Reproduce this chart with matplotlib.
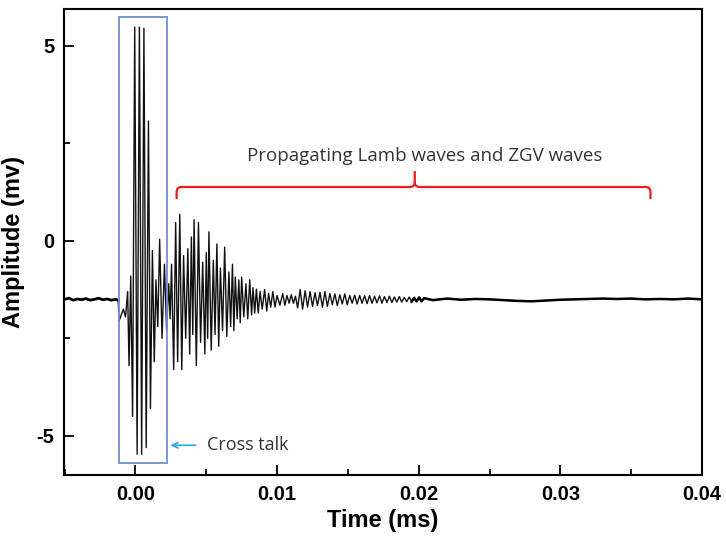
import numpy as np
import matplotlib
matplotlib.use("Agg")
import matplotlib.pyplot as plt
from matplotlib.path import Path
from matplotlib.patches import PathPatch, Rectangle

# ---- data (time in microseconds, amplitude in mV) ----
pre_t = [-5.0, -4.7, -4.4, -4.1, -3.8, -3.5, -3.2, -2.9, -2.6, -2.3, -2.0, -1.7, -1.4, -1.22]
pre_v = [-1.50, -1.47, -1.52, -1.49, -1.51, -1.48, -1.52, -1.50, -1.47, -1.51, -1.49, -1.52, -1.50, -1.52]

xtalk_t = [-1.15, -1.0, -0.85, -0.7, -0.55, -0.45, -0.33, -0.2, -0.05, 0.12, 0.28, 0.44, 0.60, 0.76,
           0.92, 1.06, 1.20, 1.33, 1.45, 1.58, 1.71, 1.88, 2.05, 2.20, 2.35, 2.45]
xtalk_v = [-2.05, -1.90, -1.75, -1.95, -1.30, -3.20, -0.90, -4.50, 5.48, -5.47, 5.48, -5.47, 5.45, -5.30,
           3.07, -4.30, -0.25, -3.10, -1.00, -2.20, 0.04, -2.50, -0.60, -2.30, -1.10, -2.00]

lamb_t = [2.55, 2.70, 2.84, 2.98, 3.13, 3.27, 3.40, 3.55, 3.70, 3.83, 3.95, 4.05, 4.14, 4.30, 4.45, 4.60,
          4.75, 4.90, 5.00, 5.10, 5.19, 5.35, 5.50, 5.62, 5.75, 5.88, 6.00, 6.15, 6.30, 6.45, 6.60, 6.72,
          6.85, 6.95, 7.05, 7.18, 7.30, 7.40, 7.50, 7.65, 7.80, 7.93, 8.07, 8.20, 8.30, 8.42, 8.54, 8.67,
          8.80, 8.95, 9.12, 9.27, 9.40, 9.55, 9.70, 9.85, 10.00, 10.20, 10.40, 10.55, 10.70, 10.85, 11.00,
          11.15, 11.30]
lamb_v = [-0.60, -3.30, 0.47, -3.10, 0.68, -3.30, -0.38, -2.50, -0.20, -2.90, 0.10, -2.40, 0.54, -3.20,
          0.47, -2.60, -0.55, -2.90, -0.30, -2.50, 0.23, -2.80, -0.50, -2.40, -0.08, -2.70, -0.70, -2.30,
          -0.16, -2.45, -0.80, -2.20, -0.60, -2.30, -0.93, -2.00, -1.00, -2.10, -0.93, -1.95, -1.10, -2.00,
          -1.00, -1.90, -1.20, -1.85, -1.24, -1.85, -1.30, -1.75, -1.25, -1.80, -1.35, -1.70, -1.30, -1.70,
          -1.40, -1.65, -1.35, -1.65, -1.40, -1.60, -1.38, -1.60, -1.42]

tail_t = [11.45, 11.63, 11.80, 11.98, 12.15, 12.33, 12.50, 12.68, 12.85, 13.03,
          13.20, 13.38, 13.55, 13.73, 13.90, 14.08, 14.25, 14.43, 14.60, 14.78,
          14.95, 15.13, 15.30, 15.48, 15.65, 15.83, 16.00, 16.18, 16.35, 16.53,
          16.70, 16.88, 17.05, 17.23, 17.40, 17.58, 17.75, 17.93, 18.10, 18.28,
          18.45, 18.63, 18.80, 18.98, 19.15, 19.33, 19.50, 19.68, 19.85, 20.03,
          20.20, 20.38]
tail_v = [-1.72, -1.25, -1.75, -1.28, -1.70, -1.30, -1.68, -1.33, -1.66, -1.32,
          -1.70, -1.30, -1.68, -1.35, -1.64, -1.36, -1.66, -1.38, -1.62, -1.36,
          -1.64, -1.40, -1.60, -1.39, -1.62, -1.40, -1.60, -1.41, -1.61, -1.40,
          -1.60, -1.42, -1.59, -1.41, -1.60, -1.43, -1.58, -1.42, -1.58, -1.44,
          -1.57, -1.43, -1.57, -1.45, -1.56, -1.44, -1.56, -1.46, -1.55, -1.45,
          -1.55, -1.47]

base_t = [21, 22, 23, 24, 25, 26, 27, 28, 29, 30, 31, 32, 33, 34, 35, 36, 37, 38, 39, 40]
base_v = [-1.52, -1.48, -1.51, -1.49, -1.50, -1.52, -1.54, -1.55, -1.53, -1.51, -1.50, -1.49, -1.48,
          -1.49, -1.48, -1.50, -1.49, -1.50, -1.48, -1.50]

x_ticks = [0.00, 0.01, 0.02, 0.03, 0.04]
x_ticklabels = ["0.00", "0.01", "0.02", "0.03", "0.04"]
y_ticks = [-5, 0, 5]
y_ticklabels = ["-5", "0", "5"]

# ---- assemble the trace (convert microseconds -> ms) ----
t_us = np.array(pre_t + xtalk_t + lamb_t + tail_t + base_t, dtype=float)
v = np.array(pre_v + xtalk_v + lamb_v + tail_v + base_v, dtype=float)
t_ms = t_us / 1000.0

plt.rcParams['font.family'] = ['Liberation Sans', 'DejaVu Sans']

fig = plt.figure(figsize=(7.26, 5.44), dpi=100)
ax = fig.add_axes([0.088, 0.127, 0.879, 0.857])

ax.plot(t_ms, v, color='#111111', lw=1.0)
# thicker, noisy-looking flat parts
ax.plot(np.array(pre_t) / 1000.0, pre_v, color='black', lw=2.0)
ax.plot(np.array(tail_t[-6:] + base_t) / 1000.0, tail_v[-6:] + base_v, color='black', lw=1.8)

ax.set_xlim(-0.00505, 0.04)
ax.set_ylim(-6.0, 5.95)

ax.set_xticks(x_ticks)
ax.set_xticklabels(x_ticklabels)
ax.set_yticks(y_ticks)
ax.set_yticklabels(y_ticklabels)
ax.set_xticks([-0.005, 0.005, 0.015, 0.025, 0.035], minor=True)
ax.set_yticks([-2.5, 2.5], minor=True)
ax.tick_params(which='major', direction='in', length=7, width=1.3, labelsize=14.5, pad=7)
ax.tick_params(which='minor', direction='in', length=4, width=1.3)
ax.tick_params(top=False, right=False, which='both')
for lab in ax.get_xticklabels() + ax.get_yticklabels():
    lab.set_fontweight('bold')
for s in ax.spines.values():
    s.set_linewidth(1.5)

ax.set_xlabel("Time (ms)", fontsize=17, fontweight='bold', labelpad=4)
ax.set_ylabel("Amplitude (mv)", fontsize=17, fontweight='bold', labelpad=8)

# cross-talk box
ax.add_patch(Rectangle((-0.00118, -5.70), 0.00344, 11.44, fill=False,
                       edgecolor='#6f8fd6', lw=1.3, zorder=3))
ax.annotate("", xy=(0.00228, -5.24), xytext=(0.00445, -5.24),
            arrowprops=dict(arrowstyle='->', color='#2aa6e0', lw=1.2))
ax.text(0.00505, -5.24, "Cross talk", fontsize=13, color='#333333',
        family=['Open Sans', 'DejaVu Sans'], va='center', ha='left')

# red bracket
x0, x1, xm = 0.00291, 0.03636, 0.01972
yb, ye, yt = 1.38, 1.07, 1.79
rx, ry = 0.00035, 0.13
verts = [(x0, ye), (x0, yb - ry), (x0, yb), (x0 + rx, yb),
         (xm - rx, yb), (xm, yb), (xm, yb + ry), (xm, yt)]
codes = [Path.MOVETO, Path.LINETO, Path.CURVE3, Path.CURVE3,
         Path.LINETO, Path.CURVE3, Path.CURVE3, Path.LINETO]
verts2 = [(x1, ye), (x1, yb - ry), (x1, yb), (x1 - rx, yb),
          (xm + rx, yb), (xm, yb), (xm, yb + ry)]
codes2 = [Path.MOVETO, Path.LINETO, Path.CURVE3, Path.CURVE3,
          Path.LINETO, Path.CURVE3, Path.CURVE3]
for vv, cc in ((verts, codes), (verts2, codes2)):
    ax.add_patch(PathPatch(Path(vv, cc), fill=False, edgecolor='#ee1c1c', lw=1.6))
ax.text(0.0204, 2.17, "Propagating Lamb waves and ZGV waves", fontsize=13.5, color='#333333',
        family=['Open Sans', 'DejaVu Sans'], ha='center', va='center')

fig.savefig("out.png", dpi=100)
